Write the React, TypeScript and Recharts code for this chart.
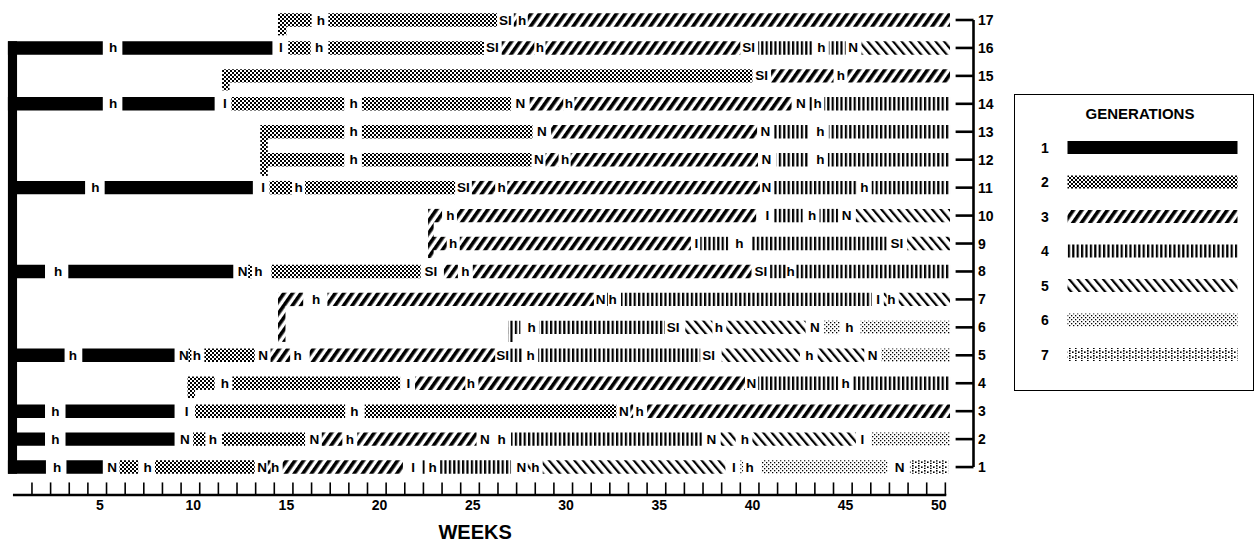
import { ComposedChart, XAxis, YAxis, ReferenceArea, ReferenceDot, ReferenceLine, Legend } from "recharts";

// a piece is either a bar [generation, fromWeek, toWeek] or a label [text, atWeek]
type Piece = [number, number, number] | [string, number];

const ROW_1: Piece[] = [[1, 0.06, 2.1], ["h", 2.7], [1, 3.2, 5.15], ["N", 5.65], [2, 6.05, 7.05], ["h", 7.55], [2, 7.95, 13.3], ["N", 13.7], [3, 14.0, 14.15], ["h", 14.4], [3, 14.8, 21.25], ["I", 21.8], [4, 22.3, 22.45], ["h", 22.85], [4, 23.25, 27.05], ["N", 27.6], [5, 27.95, 28.1], ["h", 28.35], [5, 28.75, 38.55], ["I", 39.0], [6, 39.35, 39.5], ["h", 39.85], [6, 40.5, 47.25], ["N", 47.9], [7, 48.45, 50.5]];
const ROW_2: Piece[] = [[1, 0.15, 2.05], ["h", 2.6], [1, 3.15, 9.0], ["N", 9.55], [2, 10.0, 10.65], ["h", 11.05], [2, 11.55, 16.0], ["N", 16.5], [3, 16.9, 18.0], ["h", 18.4], [3, 18.8, 25.2], ["N", 25.65], ["h", 26.55], [4, 27.05, 37.3], ["N", 37.8], [5, 38.3, 39.1], ["h", 39.6], [5, 40.0, 45.55], ["I", 45.9], [6, 46.4, 50.6]];
const ROW_3: Piece[] = [[1, 0.15, 2.05], ["h", 2.6], [1, 3.15, 9.0], ["I", 9.65], [2, 10.1, 18.15], ["h", 18.65], [2, 19.2, 32.7], ["N", 33.1], [3, 33.45, 33.6], ["h", 33.95], [3, 34.35, 50.6]];
const ROW_4: Piece[] = [[2, 9.7, 11.15], ["h", 11.7], [2, 12.1, 21.1], ["I", 21.55], [3, 21.9, 24.6], ["h", 24.9], [3, 25.3, 39.6], ["N", 39.95], [4, 40.3, 44.6], ["h", 45.0], [4, 45.35, 50.6]];
const ROW_5: Piece[] = [[1, 0.15, 3.1], ["h", 3.55], [1, 4.05, 9.0], ["N", 9.5], [2, 9.75, 9.9], ["h", 10.2], [2, 10.6, 13.3], ["N", 13.75], [3, 14.15, 15.2], ["h", 15.6], [3, 16.25, 26.2], ["SI", 26.6], [4, 27.0, 27.65], ["h", 28.1], [4, 28.5, 37.2], ["SI", 37.65], [5, 38.35, 42.55], ["h", 43.05], [5, 43.5, 46.0], ["N", 46.45], [6, 46.9, 50.6]];
const ROW_6: Piece[] = [[4, 26.9, 27.55], ["h", 28.15], [4, 28.55, 35.3], ["SI", 35.75], [5, 36.4, 37.85], ["h", 38.2], [5, 38.6, 42.85], ["N", 43.35], [6, 43.85, 44.7], ["h", 45.2], [6, 45.8, 50.6]];
const ROW_7: Piece[] = [[3, 14.55, 15.9], ["h", 16.6], [3, 17.2, 31.5], ["N", 31.85], [4, 32.15, 32.25], ["h", 32.5], [4, 32.95, 46.4], ["I", 46.75], [5, 47.05, 47.2], ["h", 47.45], [5, 47.85, 50.6]];
const ROW_8: Piece[] = [[1, 0.3, 2.05], ["h", 2.75], [1, 3.3, 12.15], ["N", 12.65], [2, 12.95, 13.15], ["h", 13.5], [2, 14.2, 22.2], ["SI", 22.75], [3, 23.45, 24.2], ["h", 24.6], [3, 25.0, 39.95], ["SI", 40.45], [4, 40.95, 41.8], ["h", 42.05], [4, 42.35, 50.6]];
const ROW_9: Piece[] = [[3, 22.6, 23.6], ["h", 23.95], [3, 24.3, 36.7], ["I", 37.0], [4, 37.2, 38.7], ["h", 39.3], [4, 39.95, 47.2], ["SI", 47.75], [5, 48.3, 50.6]];
const ROW_10: Piece[] = [[3, 22.6, 23.35], ["h", 23.8], [3, 24.15, 40.2], ["I", 40.8], [4, 41.15, 42.7], ["h", 43.2], [4, 43.6, 44.6], ["N", 45.05], [5, 45.55, 50.6]];
const ROW_11: Piece[] = [[1, 0.15, 4.2], ["h", 4.75], [1, 5.25, 13.2], ["I", 13.75], [2, 14.1, 15.3], ["h", 15.65], [2, 16.0, 24.05], ["SI", 24.5], [3, 24.95, 26.2], ["h", 26.55], [3, 26.85, 40.4], ["N", 40.75], [4, 41.1, 45.6], ["h", 46.0], [4, 46.4, 50.6]];
const ROW_12: Piece[] = [[2, 13.6, 18.1], ["h", 18.6], [2, 19.05, 28.15], ["N", 28.55], [3, 28.9, 29.6], ["h", 29.95], [3, 30.25, 40.3], ["N", 40.75], [4, 41.3, 43.0], ["h", 43.65], [4, 44.05, 50.6]];
const ROW_13: Piece[] = [[2, 13.6, 18.1], ["h", 18.6], [2, 19.05, 28.2], ["N", 28.7], [3, 29.2, 40.25], ["N", 40.7], [4, 41.15, 43.0], ["h", 43.65], [4, 44.1, 50.6]];
const ROW_14: Piece[] = [[1, 0.06, 5.15], ["h", 5.7], [1, 6.2, 11.15], ["I", 11.7], [2, 12.05, 18.1], ["h", 18.6], [2, 19.05, 27.05], ["N", 27.55], [3, 28.05, 29.85], ["h", 30.15], [3, 30.45, 42.1], ["N", 42.6], [4, 43.05, 43.2], ["h", 43.5], [4, 43.85, 50.6]];
const ROW_15: Piece[] = [[2, 11.55, 40.0], ["SI", 40.5], [3, 41.0, 44.35], ["h", 44.75], [3, 45.1, 50.6]];
const ROW_16: Piece[] = [[1, 0.06, 5.15], ["h", 5.7], [1, 6.2, 14.25], ["I", 14.7], [2, 15.1, 16.3], ["h", 16.75], [2, 17.25, 25.6], ["SI", 26.05], [3, 26.55, 28.3], ["h", 28.6], [3, 28.9, 39.35], ["SI", 39.8], [4, 40.3, 43.2], ["h", 43.7], [4, 44.1, 45.0], ["N", 45.4], [5, 45.85, 50.6]];
const ROW_17: Piece[] = [[2, 14.55, 16.35], ["h", 16.85], [2, 17.25, 26.3], ["SI", 26.75], [3, 27.2, 27.35], ["h", 27.65], [3, 27.95, 50.6]];

const ROWS = [ROW_1, ROW_2, ROW_3, ROW_4, ROW_5, ROW_6, ROW_7, ROW_8, ROW_9, ROW_10, ROW_11, ROW_12, ROW_13, ROW_14, ROW_15, ROW_16, ROW_17];

// vertical links: generation, fromWeek, toWeek, top row, bottom row
const LINKS: [number, number, number, number, number][] = [
    [1, 0.06, 0.55, 16.24, 0.76],
    [2, 14.55, 15.0, 17, 16.45],
    [2, 11.55, 11.95, 15, 14.48],
    [2, 13.6, 14.0, 13, 11.42],
    [3, 22.6, 22.9, 10, 8.48],
    [3, 14.55, 14.95, 7, 5.48],
    [4, 26.9, 27.15, 6, 5.48],
    [2, 9.7, 10.1, 4, 3.47],
];

const WEEK_LABELS = [5, 10, 15, 20, 25, 30, 35, 40, 45, 50];
const WEEKS = 50;
const ROW_LABELS = [1, 2, 3, 4, 5, 6, 7, 8, 9, 10, 11, 12, 13, 14, 15, 16, 17];
const GENERATIONS = [1, 2, 3, 4, 5, 6, 7];

const X_MAX = 51.86;
const HALF = 0.24;
const FONT = "'Liberation Sans', Arial, Helvetica, sans-serif";

const fillFor = (g: number, id: string) => (g === 1 ? "#000" : `url(#${id}-${g})`);
const isBar = (p: Piece): p is [number, number, number] => typeof p[0] === "number";

const Patterns = ({ id }: { id: string }) => (
    <defs>
        <pattern id={`${id}-2`} width={4} height={4} patternUnits="userSpaceOnUse">
            <rect width={4} height={4} fill="#fff" />
            <rect width={2} height={2} fill="#000" />
            <rect x={2} y={2} width={2} height={2} fill="#000" />
        </pattern>
        <pattern id={`${id}-3`} width={7} height={8} patternUnits="userSpaceOnUse" patternTransform="rotate(35)">
            <rect width={7} height={8} fill="#fff" />
            <rect width={3.6} height={8} fill="#000" />
        </pattern>
        <pattern id={`${id}-4`} width={4.4} height={4} patternUnits="userSpaceOnUse">
            <rect width={4.4} height={4} fill="#fff" />
            <rect width={2.2} height={4} fill="#000" />
        </pattern>
        <pattern id={`${id}-5`} width={6.5} height={6} patternUnits="userSpaceOnUse" patternTransform="rotate(-40)">
            <rect width={6.5} height={6} fill="#fff" />
            <rect width={2.2} height={6} fill="#000" />
        </pattern>
        <pattern id={`${id}-6`} width={4} height={4} patternUnits="userSpaceOnUse">
            <rect width={4} height={4} fill="#fff" />
            <rect width={1.3} height={1.3} fill="#000" />
            <rect x={2} y={2} width={1.3} height={1.3} fill="#000" />
        </pattern>
        <pattern id={`${id}-7`} width={6} height={5} patternUnits="userSpaceOnUse">
            <rect width={6} height={5} fill="#fff" />
            <rect width={1.6} height={1.6} fill="#000" />
            <rect y={2.8} width={1.6} height={1.2} fill="#000" />
            <rect x={3} y={1.4} width={1.6} height={1.6} fill="#000" />
        </pattern>
    </defs>
);

const GenerationKey = () => (
    <div style={{ width: 240, height: 297, boxSizing: "border-box", border: "1.5px solid #000", background: "#fff" }}>
        <svg width={237} height={294} style={{ display: "block" }}>
            <Patterns id="key" />
            <text x={125} y={18} textAnchor="middle" dominantBaseline="central" fontFamily={FONT} fontWeight="bold" fontSize={15}>
                GENERATIONS
            </text>
            {GENERATIONS.map((g, i) => {
                const y = 52.5 + i * 34.5;
                return (
                    <g key={g}>
                        <text x={30} y={y} textAnchor="middle" dominantBaseline="central" fontFamily={FONT} fontWeight="bold" fontSize={14}>
                            {g}
                        </text>
                        <rect x={52.5} y={y - 6.5} width={170} height={13} fill={fillFor(g, "key")} />
                    </g>
                );
            })}
        </svg>
    </div>
);

const textAt = (value: string | number, dx: number, size: number, anchor: "start" | "middle") => (props: any) => (
    <text x={props.cx + dx} y={props.cy} textAnchor={anchor} dominantBaseline="central" fontFamily={FONT} fontWeight="bold" fontSize={size} fill="#000">
        {value}
    </text>
);

export default function App() {
    const marks = Array.from({ length: WEEKS }, (_, i) => i + 1.35);
    return (
        <div style={{ position: "absolute", left: 0, top: 0, width: 1255, height: 545, background: "#fff" }}>
            <ComposedChart width={1255} height={545} margin={{ top: 20, right: 281.5, bottom: 0, left: 6.8 }}>
                <Patterns id="gen" />
                <XAxis
                    type="number"
                    dataKey="w"
                    domain={[0, X_MAX]}
                    allowDataOverflow
                    ticks={WEEK_LABELS}
                    interval={0}
                    axisLine={false}
                    tickLine={false}
                    tickSize={0}
                    tickMargin={5}
                    height={50}
                    tick={{ fill: "#000", fontSize: 14, fontWeight: "bold", fontFamily: FONT }}
                    label={{ value: "WEEKS", position: "insideBottom", offset: 6, dx: -15, fill: "#000", fontSize: 20, fontWeight: "bold", fontFamily: FONT }}
                />
                <YAxis type="number" dataKey="row" orientation="right" domain={[0, 17]} allowDataOverflow hide />
                {LINKS.map(([g, from, to, top, bottom], i) => (
                    <ReferenceArea key={`link-${i}`} x1={from} x2={to} y1={bottom} y2={top} fill={fillFor(g, "gen")} fillOpacity={1} stroke="none" ifOverflow="visible" />
                ))}
                {ROWS.flatMap((pieces, i) =>
                    pieces.filter(isBar).map(([g, from, to], j) => (
                        <ReferenceArea key={`bar-${i}-${j}`} x1={from} x2={to} y1={i + 1 - HALF} y2={i + 1 + HALF} fill={fillFor(g, "gen")} fillOpacity={1} stroke="none" ifOverflow="visible" />
                    ))
                )}
                {ROWS.flatMap((pieces, i) =>
                    pieces
                        .filter((p) => !isBar(p))
                        .map((p, j) => (
                            <ReferenceDot key={`lbl-${i}-${j}`} x={p[1] as number} y={i + 1} r={1} ifOverflow="visible" shape={textAt(p[0], 0, 13.5, "middle")} />
                        ))
                )}
                <ReferenceLine segment={[{ x: 0.33, y: 0 }, { x: 50.4, y: 0 }]} stroke="#000" strokeWidth={2.5} ifOverflow="visible" />
                {marks.map((m) => (
                    <ReferenceLine key={`mark-${m}`} segment={[{ x: m, y: 0 }, { x: m, y: 0.45 }]} stroke="#000" strokeWidth={1.6} ifOverflow="visible" />
                ))}
                <ReferenceLine segment={[{ x: X_MAX, y: 1 }, { x: X_MAX, y: 17 }]} stroke="#000" strokeWidth={2.6} ifOverflow="visible" />
                {ROW_LABELS.map((r) => (
                    <ReferenceLine key={`rt-${r}`} segment={[{ x: 50.9, y: r }, { x: X_MAX, y: r }]} stroke="#000" strokeWidth={2.6} ifOverflow="visible" />
                ))}
                {ROW_LABELS.map((r) => (
                    <ReferenceDot key={`rl-${r}`} x={X_MAX} y={r} r={1} ifOverflow="visible" shape={textAt(r, 4.5, 14, "start")} />
                ))}
                <Legend
                    layout="horizontal"
                    align="center"
                    verticalAlign="middle"
                    width={240}
                    height={297}
                    wrapperStyle={{ left: 1014, top: 94 }}
                    content={() => <GenerationKey />}
                />
            </ComposedChart>
        </div>
    );
}
